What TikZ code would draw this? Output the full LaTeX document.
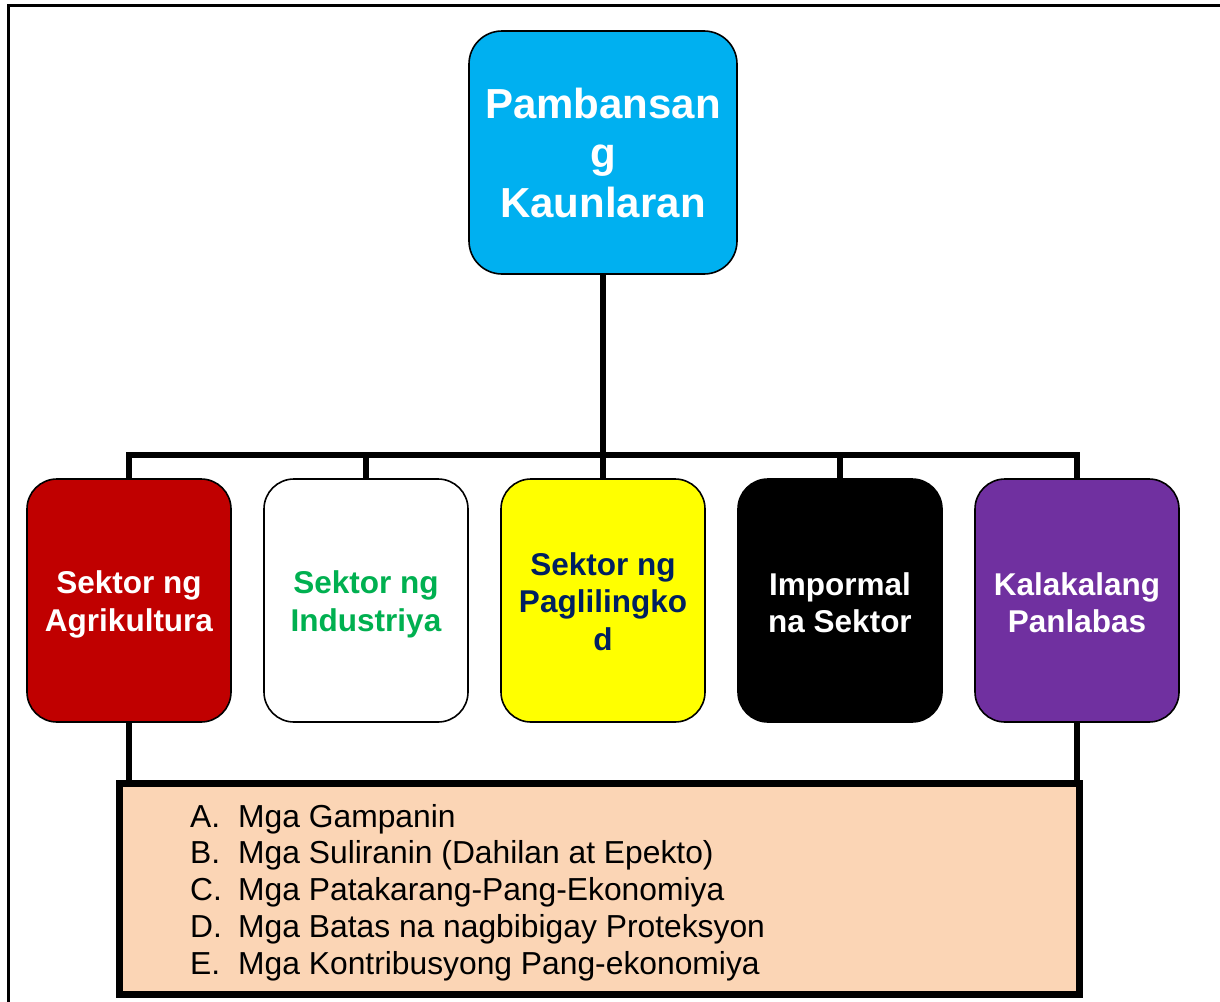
\documentclass[tikz,border=0pt]{standalone}
\usepackage{fontspec}
\setmainfont{Liberation Sans}
\definecolor{topblue}{HTML}{00B0F0}
\definecolor{agrired}{HTML}{C00000}
\definecolor{indgreen}{HTML}{00B050}
\definecolor{servyellow}{HTML}{FFFF00}
\definecolor{servnavy}{HTML}{002060}
\definecolor{extpurple}{HTML}{7030A0}
\definecolor{peach}{HTML}{FBD5B5}
\begin{document}
\begin{tikzpicture}[x=1pt,y=-1pt,
  topbox/.style={draw=black, line width=1.6pt, rounded corners=33pt, fill=topblue, text=white,
    minimum width=268pt, minimum height=243pt, inner sep=0pt, align=center,
    font=\bfseries\fontsize{42}{49.5}\selectfont},
  secbox/.style={draw=black, line width=1.6pt, rounded corners=30pt,
    minimum width=204pt, minimum height=243pt, inner sep=0pt},
  sectext/.style={inner sep=0pt, align=center, font=\bfseries\fontsize{31.5}{37.5}\selectfont},
  conn/.style={line width=5.5pt, draw=black},
  listbox/.style={draw=black, line width=7pt, fill=peach, minimum width=960pt, minimum height=211pt, inner sep=0pt},
  listtext/.style={inner sep=0pt, align=left, font=\fontsize{31.8}{36.75}\selectfont}
]
\useasboundingbox (0,0) rectangle (1220,1001);
\draw[line width=3pt] (8,5) rectangle (1240,1030);

\node[topbox] (top) at (603,152.5) {Pambansan\\g\\Kaunlaran};

\node[secbox, fill=agrired] (b1) at (129,600.5) {};
\node[secbox, fill=white] (b2) at (366,600.5) {};
\node[secbox, fill=servyellow] (b3) at (603,600.5) {};
\node[secbox, fill=black] (b4) at (840,600.5) {};
\node[secbox, fill=extpurple] (b5) at (1077,600.5) {};

\node[sectext, text=white] (t1) at ([yshift=-4pt]b1.center) {Sektor ng\\Agrikultura};
\node[sectext, text=indgreen] (t2) at ([yshift=-4pt]b2.center) {Sektor ng\\Industriya};
\node[sectext, text=servnavy] (t3) at ([yshift=-1pt]b3.center) {Sektor ng\\Paglilingko\\d};
\node[sectext, text=white] (t4) at ([yshift=-2pt]b4.center) {Impormal\\na Sektor};
\node[sectext, text=white] (t5) at ([yshift=-2pt]b5.center) {Kalakalang\\Panlabas};

\coordinate (bar) at (603,455);
\draw[conn] (top.south) -- (bar);
\draw[conn] (b1.north) |- (bar) -| (b5.north);
\draw[conn] (b2.north) -- (b2.north |- bar);
\draw[conn] (b3.north) -- (bar);
\draw[conn] (b4.north) -- (b4.north |- bar);

\node[listbox] (list) at (599.5,889) {};
\draw[conn] (b1.south) -- (b1.south |- list.north);
\draw[conn] (b5.south) -- (b5.south |- list.north);

\node[listtext, anchor=west] (items) at (190,892.5) {%
\makebox[48pt][l]{A.}Mga Gampanin\\
\makebox[48pt][l]{B.}Mga Suliranin (Dahilan at Epekto)\\
\makebox[48pt][l]{C.}Mga Patakarang-Pang-Ekonomiya\\
\makebox[48pt][l]{D.}Mga Batas na nagbibigay Proteksyon\\
\makebox[48pt][l]{E.}Mga Kontribusyong Pang-ekonomiya};
\end{tikzpicture}
\end{document}
